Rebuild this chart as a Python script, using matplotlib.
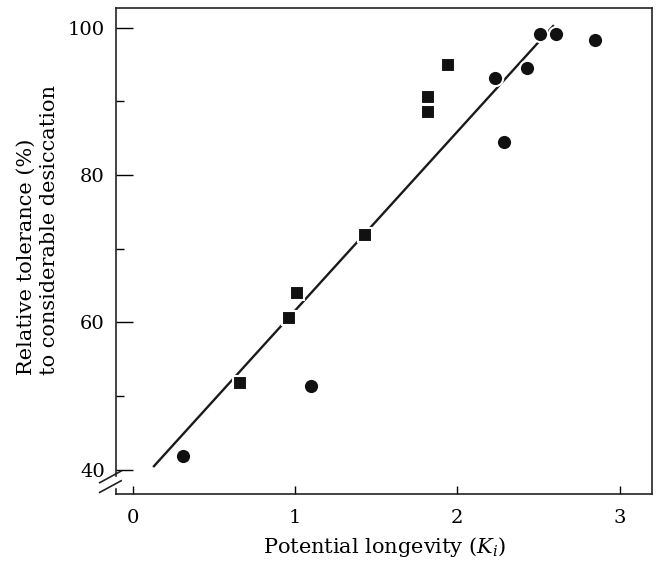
import matplotlib.pyplot as plt
import matplotlib.patches as mpatches

# circles
circ_x = [0.31, 1.10, 2.23, 2.29, 2.43, 2.51, 2.61, 2.85]
circ_y = [41.9, 51.4, 93.2, 84.5, 94.5, 99.2, 99.2, 98.3]

# squares
sq_x = [0.66, 0.96, 1.01, 1.43, 1.82, 1.82, 1.94]
sq_y = [51.7, 60.6, 64.0, 71.8, 88.6, 90.6, 95.0]

# fitted line: y = a + b*x
fit_a = 37.3
fit_b = 24.3
fit_solid = [0.13, 2.50]
fit_dash = [2.52, 2.59]

plt.rcParams['font.family'] = 'DejaVu Serif'
plt.rcParams['mathtext.fontset'] = 'dejavuserif'

fig = plt.figure(figsize=(6.58, 5.67), dpi=100)
ax = fig.add_axes([0.176, 0.129, 0.815, 0.857])

ax.plot(fit_solid, [fit_a + fit_b * x for x in fit_solid], color='#1a1a1a', lw=1.7, zorder=2)
ax.plot(fit_dash, [fit_a + fit_b * x for x in fit_dash], color='#1a1a1a', lw=1.7, zorder=2)

ax.plot(circ_x, circ_y, 'o', color='#111111', markersize=11, mec='white', mew=1.5, zorder=3)
ax.plot(sq_x, sq_y, 's', color='#111111', markersize=10, mec='white', mew=1.5, zorder=3)

ax.set_xlim(-0.105, 3.20)
ax.set_ylim(36.7, 102.7)
ax.set_xticks([0, 1, 2, 3])
ax.set_yticks([40, 60, 80, 100])
ax.set_yticks([50, 70, 90], minor=True)

ax.tick_params(axis='y', which='major', direction='in', length=12, width=1, labelsize=14, pad=8)
ax.tick_params(axis='y', which='minor', direction='in', length=6, width=1)
ax.tick_params(axis='x', which='major', direction='in', length=6, width=1, labelsize=14, pad=11)

for s in ax.spines.values():
    s.set_linewidth(1.2)
    s.set_color('#222222')

ax.set_xlabel('Potential longevity ($K_i$)', fontsize=15, labelpad=6)

# y label, both lines start at the same height
fig.text(0.058, 1 - 375 / 567, 'Relative tolerance (%)\nto considerable desiccation',
         rotation=90, fontsize=15, va='bottom', ha='center', multialignment='left',
         linespacing=1.3)

# axis break on the y axis
ax.add_patch(mpatches.Rectangle((-0.01, 0.015), 0.02, 0.02, transform=ax.transAxes,
                                color='white', clip_on=False, zorder=5))
for dy in [0.015, 0.035]:
    ax.plot([-0.03, 0.01], [dy - 0.012, dy + 0.012], transform=ax.transAxes,
            color='#222222', lw=1.2, clip_on=False, zorder=6)

fig.savefig('out.png', dpi=100)
